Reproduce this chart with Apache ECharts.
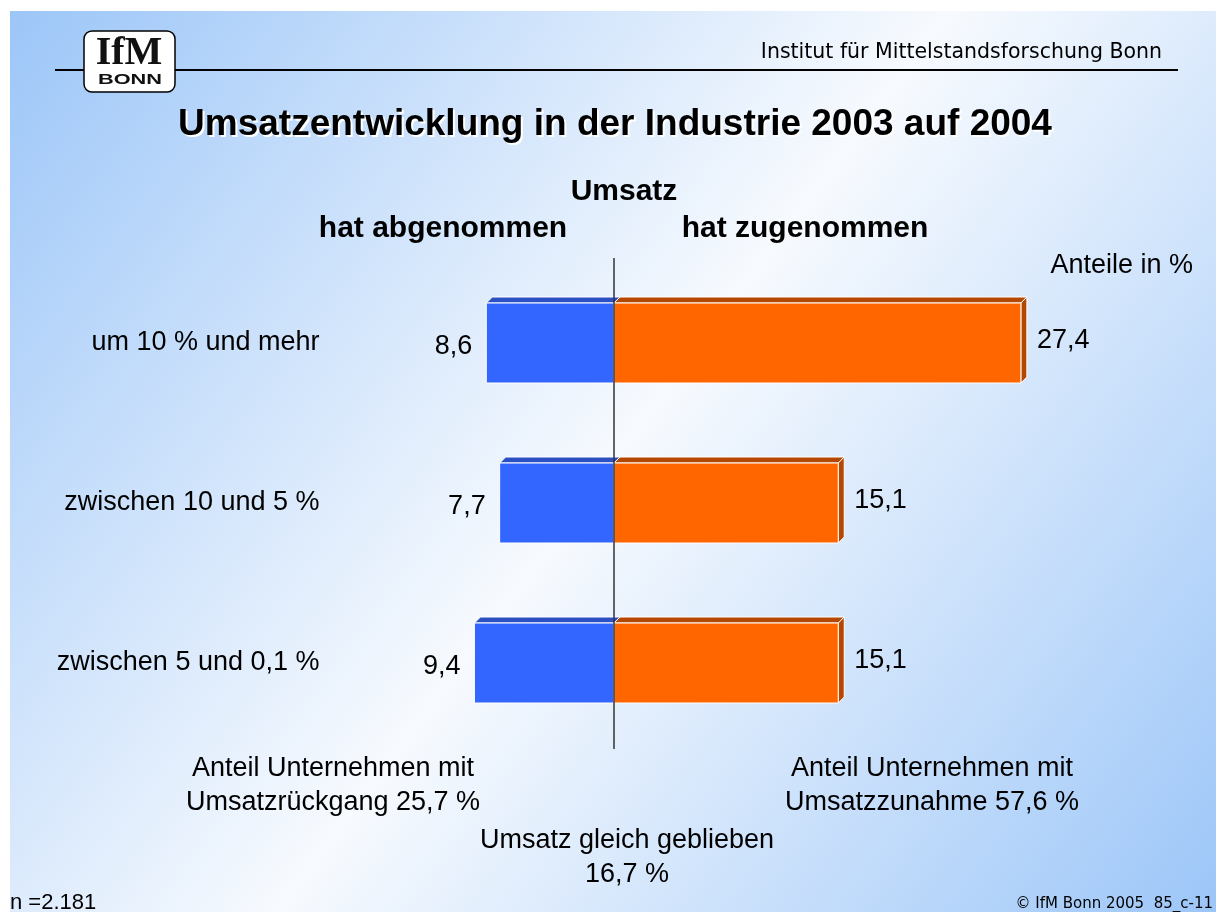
<!DOCTYPE html>
<html>
<head>
<meta charset="utf-8">
<script src="https://cdn.jsdelivr.net/npm/echarts@6/dist/echarts.min.js"></script>
<style>
html,body{margin:0;padding:0;background:#fff;}
#chart{width:1216px;height:912px;}
</style>
</head>
<body>
<div id="chart"></div>
<script>
// Umsatzentwicklung in der Industrie 2003 auf 2004
var categories = ['um 10 % und mehr', 'zwischen 10 und 5 %', 'zwischen 5 und 0,1 %'];
var abgenommen = [8.6, 7.7, 9.4];   // Umsatz hat abgenommen
var zugenommen = [27.4, 15.1, 15.1]; // Umsatz hat zugenommen

var FONT = '"Liberation Sans", Arial, sans-serif';
var TAHOMA = '"DejaVu Sans", Tahoma, sans-serif';
var DEPTH = 6;

function fmt(v){
	return String(Math.abs(v).toFixed(1)).replace('.', ',');
}

// 3D-Balken: Vorderseite, Deckfläche, (rechts) Seitenfläche
function makeRender(front, dark, side){
	return function(params, api){
		var cat = api.value(1);
		var val = api.value(0);
		var p0 = api.coord([0, cat]);
		var p1 = api.coord([val, cat]);
		var h = api.size([0, 1])[1] * 0.5;
		var xL = Math.min(p0[0], p1[0]), xR = Math.max(p0[0], p1[0]);
		var yT = p0[1] - h / 2, yB = p0[1] + h / 2;
		var d = DEPTH;
		var kids = [];
		kids.push({
			type: 'polygon',
			shape: {points: [[xL, yT], [xL + d, yT - d], [xR + d, yT - d], [xR, yT]]},
			style: {fill: dark, stroke: '#fff', lineWidth: 1}
		});
		if(side){
			kids.push({
				type: 'polygon',
				shape: {points: [[xR, yT], [xR + d, yT - d], [xR + d, yB - d], [xR, yB]]},
				style: {fill: dark, stroke: '#fff', lineWidth: 1}
			});
		}
		kids.push({
			type: 'rect',
			shape: {x: xL, y: yT, width: xR - xL, height: h},
			style: {fill: front, stroke: '#fff', lineWidth: 1}
		});
		var lx = val < 0 ? xL - 14 : xR + 16;
		kids.push({
			type: 'text',
			x: lx, y: p0[1] + (val < 0 ? 4 : -2),
			style: {
				text: fmt(val), fill: '#000', font: '27px ' + FONT,
				align: val < 0 ? 'right' : 'left', verticalAlign: 'middle'
			}
		});
		return {type: 'group', children: kids};
	};
}

var negData = abgenommen.map(function(v, i){ return [-v, i]; });
var posData = zugenommen.map(function(v, i){ return [v, i]; });

var myChart = echarts.init(document.getElementById('chart'));
var option = {
	backgroundColor: '#fff',
	animation: false,
	grid: {left: 465.5, width: 594, top: 263, height: 480},
	xAxis: {
		type: 'value', min: -10, max: 30, show: false
	},
	yAxis: {
		type: 'category', data: categories, inverse: true,
		axisLine: {show: false}, axisTick: {show: false}, splitLine: {show: false},
		axisLabel: {margin: 146, color: '#000', fontSize: 27, fontFamily: FONT}
	},
	graphic: [
		// Hintergrund
		{
			type: 'rect', z: -10, silent: true,
			shape: {x: 10, y: 11, width: 1206, height: 901},
			style: {fill: new echarts.graphic.LinearGradient(0, 0, 1, 1, [
				{offset: 0, color: '#9cc6f8'},
				{offset: 0.5, color: '#f7fafe'},
				{offset: 1, color: '#9cc6f8'}
			])}
		},
		{type: 'line', z: 1, shape: {x1: 55, y1: 70, x2: 1178, y2: 70}, style: {stroke: '#000', lineWidth: 2}},
		// Logo
		{type: 'rect', z: 2, shape: {x: 84, y: 31, width: 91, height: 61, r: 8},
			style: {fill: '#fff', stroke: '#000', lineWidth: 1.5}},
		{type: 'text', z: 3, x: 129, y: 54, style: {text: 'IfM', font: 'bold 40px "Liberation Serif", "DejaVu Serif", serif',
			fill: '#111', align: 'center', verticalAlign: 'middle'}},
		{type: 'text', z: 3, x: 130, y: 80, scaleX: 1.45, style: {text: 'BONN', font: 'bold 15px ' + FONT,
			fill: '#111', align: 'center', verticalAlign: 'middle'}},
		{type: 'text', x: 1162, y: 53, style: {text: 'Institut für Mittelstandsforschung Bonn', font: '20.5px ' + TAHOMA,
			fill: '#000', align: 'right', verticalAlign: 'middle'}},
		// Titel mit weißem Schatten
		{type: 'text', x: 617, y: 127, style: {text: 'Umsatzentwicklung in der Industrie 2003 auf 2004',
			font: 'bold 37px ' + FONT, fill: '#fff', align: 'center', verticalAlign: 'middle'}},
		{type: 'text', x: 615, y: 125, style: {text: 'Umsatzentwicklung in der Industrie 2003 auf 2004',
			font: 'bold 37px ' + FONT, fill: '#000', align: 'center', verticalAlign: 'middle'}},
		{type: 'text', x: 624, y: 192, style: {text: 'Umsatz', font: 'bold 30px ' + FONT,
			fill: '#000', align: 'center', verticalAlign: 'middle'}},
		{type: 'text', x: 443, y: 229, style: {text: 'hat abgenommen', font: 'bold 30px ' + FONT,
			fill: '#000', align: 'center', verticalAlign: 'middle'}},
		{type: 'text', x: 805, y: 229, style: {text: 'hat zugenommen', font: 'bold 30px ' + FONT,
			fill: '#000', align: 'center', verticalAlign: 'middle'}},
		{type: 'text', x: 1193, y: 266, style: {text: 'Anteile in %', font: '27px ' + FONT,
			fill: '#000', align: 'right', verticalAlign: 'middle'}},
		// Nulllinie
		{type: 'line', z: 5, shape: {x1: 614, y1: 258, x2: 614, y2: 749}, style: {stroke: '#333', lineWidth: 1.5}},
		// Summen unten
		{type: 'text', x: 333, y: 786, style: {text: 'Anteil Unternehmen mit\nUmsatzrückgang 25,7 %', font: '27px ' + FONT,
			lineHeight: 34, fill: '#000', align: 'center', verticalAlign: 'middle'}},
		{type: 'text', x: 932, y: 786, style: {text: 'Anteil Unternehmen mit\nUmsatzzunahme 57,6 %', font: '27px ' + FONT,
			lineHeight: 34, fill: '#000', align: 'center', verticalAlign: 'middle'}},
		{type: 'text', x: 627, y: 858, style: {text: 'Umsatz gleich geblieben\n16,7 %', font: '27px ' + FONT,
			lineHeight: 34, fill: '#000', align: 'center', verticalAlign: 'middle'}},
		{type: 'text', x: 10, y: 903, style: {text: 'n =2.181', font: '22px ' + FONT,
			fill: '#000', align: 'left', verticalAlign: 'middle'}},
		{type: 'text', x: 1213, y: 904, style: {text: '© IfM Bonn 2005  85_c-11', font: '15px ' + TAHOMA,
			fill: '#000', align: 'right', verticalAlign: 'middle'}}
	],
	series: [
		{
			name: 'hat abgenommen', type: 'custom', z: 3,
			renderItem: makeRender('#3366ff', '#2a50c4', false),
			encode: {x: 0, y: 1},
			data: negData
		},
		{
			name: 'hat zugenommen', type: 'custom', z: 4,
			renderItem: makeRender('#ff6600', '#b44800', true),
			encode: {x: 0, y: 1},
			data: posData
		}
	]
};
myChart.setOption(option, true);
</script>
</body>
</html>
